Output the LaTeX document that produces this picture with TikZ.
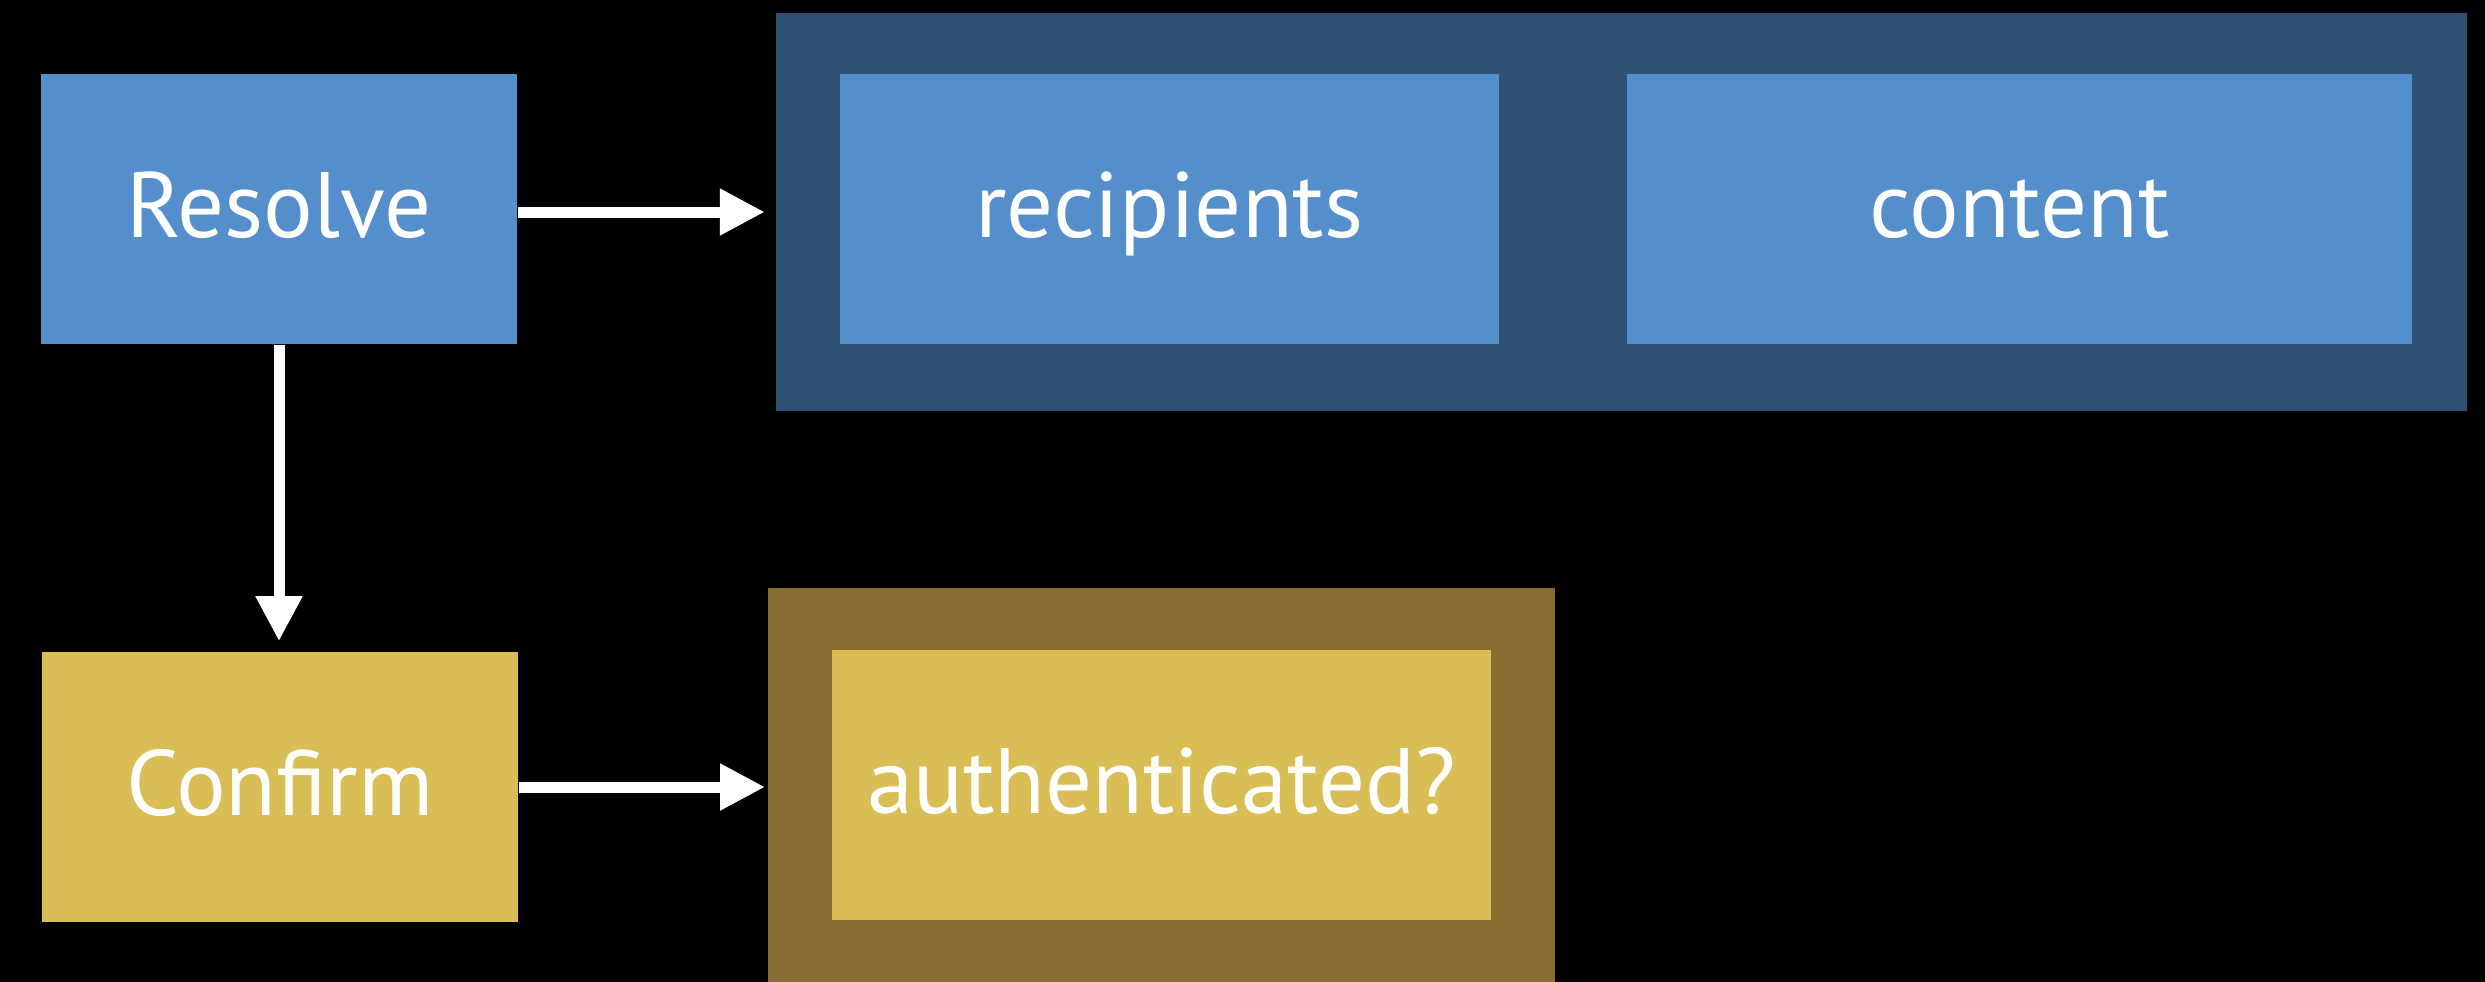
\documentclass[tikz,border=0pt]{standalone}
\usepackage{fontspec}
\setmainfont{PT Sans}
\usetikzlibrary{arrows.meta,calc}
\definecolor{boxblue}{RGB}{84,143,204}
\definecolor{grpblue}{RGB}{47,82,116}
\definecolor{boxyellow}{RGB}{216,190,85}
\definecolor{grpbrown}{RGB}{136,108,49}
\tikzset{
  box/.style={rectangle, inner sep=0pt, text=white, font=\fontsize{26.4pt}{30pt}\selectfont,
    text height=0.56cm, text depth=0pt, minimum height=2.7cm},
  grp/.style={rectangle, inner sep=0pt},
  arr/.style={draw=white, line width=0.11cm, -{Triangle[length=0.45cm,width=0.44cm]}}
}
\begin{document}
\begin{tikzpicture}[x=0.01cm,y=-0.01cm]
\useasboundingbox (0,0) rectangle (2485,981);
\fill[black] (-20,-20) rectangle (2505,1001);
% groups
\node[grp, fill=grpblue, minimum width=16.9cm, minimum height=3.98cm] (gblue) at (1621,212) {};
\node[grp, fill=grpbrown, minimum width=7.87cm, minimum height=4.13cm] (gbrown) at (1161.5,794.5) {};
% boxes
\node[box, fill=boxblue, minimum width=4.76cm] (resolve) at (279,209) {Resolve};
\node[box, fill=boxyellow, minimum width=4.76cm] (confirm) at (280,787) {Confirm};
\node[box, fill=boxblue, minimum width=6.585cm] (recip) at (1169.25,209) {recipients};
\node[box, fill=boxblue, minimum width=7.85cm] (content) at (2019.5,209) {content};
\node[box, fill=boxyellow, minimum width=6.59cm] (auth) at (1161.5,785) {authenticated?};
% arrows
\draw[arr] (resolve.east |- gblue.west) -- ($(gblue.west)+(-10,0)$);
\draw[arr] (resolve.south) -- ($(resolve.south |- confirm.north)+(0,-10)$);
\draw[arr] (confirm.east) -- ($(confirm.east -| gbrown.west)+(-2,0)$);
\end{tikzpicture}
\end{document}
